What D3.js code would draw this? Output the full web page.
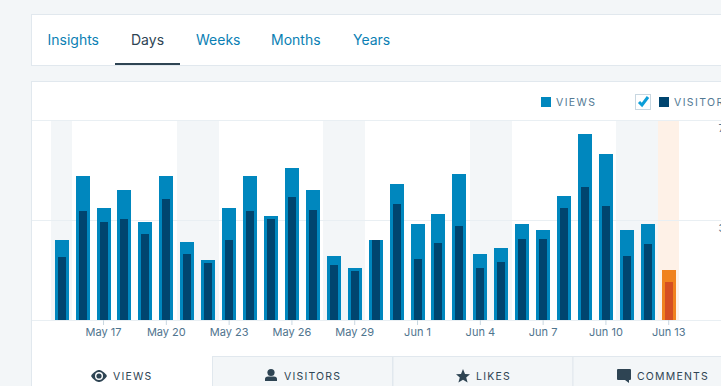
<!DOCTYPE html>
<html>
<head>
<meta charset="utf-8">
<script src="https://cdn.jsdelivr.net/npm/d3@7"></script>
<style>
html, body { margin: 0; padding: 0; background: #f3f6f8; overflow: hidden; }
svg { display: block; font-family: Inter, "Open Sans", sans-serif; }
</style>
</head>
<body>
<script>
const days = [
    'May 15', 'May 16', 'May 17', 'May 18', 'May 19', 'May 20', 'May 21', 'May 22', 'May 23', 'May 24',
    'May 25', 'May 26', 'May 27', 'May 28', 'May 29', 'May 30', 'May 31', 'Jun 1', 'Jun 2', 'Jun 3',
    'Jun 4', 'Jun 5', 'Jun 6', 'Jun 7', 'Jun 8', 'Jun 9', 'Jun 10', 'Jun 11', 'Jun 12', 'Jun 13'
];
const views = [300, 540, 420, 488, 368, 540, 293, 225, 420, 540, 390, 570, 488, 240, 195, 300, 510, 360, 398, 548, 248, 270, 360, 338, 465, 698, 623, 338, 360, 188];
const visitors = [236, 409, 368, 379, 323, 454, 248, 214, 300, 409, 379, 461, 412, 206, 184, 300, 435, 229, 289, 353, 195, 218, 304, 304, 420, 500, 428, 240, 285, 143];
const weekendDays = ['May 15', 'May 21', 'May 22', 'May 28', 'May 29', 'Jun 4', 'Jun 5', 'Jun 11', 'Jun 12'];
const todayDay = 'Jun 13';
const tickDays = ['May 17', 'May 20', 'May 23', 'May 26', 'May 29', 'Jun 1', 'Jun 4', 'Jun 7', 'Jun 10', 'Jun 13'];
const yTicks = [375, 750];
const rangeTabs = ['Insights', 'Days', 'Weeks', 'Months', 'Years'];
const rangeTabX = [47.5, 131, 196, 271, 353];
const statTabs = ['VIEWS', 'VISITORS', 'LIKES', 'COMMENTS'];

const [w, h] = [721, 386];
const border = '#e1e8ee';
const gridColor = '#e9eff3';
const textColor = '#2e4453';
const linkColor = '#0b7fb4';

const svg = d3.select('body')
    .append('svg')
    .attr('width', w)
    .attr('height', h);

// Range tabs card
svg.append('rect')
    .attr('x', 31.5).attr('y', 14.5)
    .attr('width', w).attr('height', 51)
    .attr('fill', '#fff').attr('stroke', border);

svg.selectAll('.range-tab')
    .data(rangeTabs)
    .enter()
    .append('text')
    .attr('class', 'range-tab')
    .attr('x', (d, i) => rangeTabX[i])
    .attr('y', 45)
    .attr('font-size', '14px')
    .attr('fill', d => d === 'Days' ? textColor : linkColor)
    .text(d => d);

svg.append('rect')
    .attr('x', 115).attr('y', 63)
    .attr('width', 65).attr('height', 2)
    .attr('fill', '#2e4453');

// Chart card
svg.append('rect')
    .attr('x', 31.5).attr('y', 81.5)
    .attr('width', w).attr('height', h)
    .attr('fill', '#fff').attr('stroke', border);

// Scales
const x = d3.scaleBand()
    .domain(days)
    .range([51.2, 679.2]);

const y = d3.scaleLinear()
    .domain([0, 750])
    .range([320, 120]);

const barW = 14;
const innerW = 8;

// Day backgrounds
svg.append('g')
    .selectAll('rect')
    .data(days.filter(d => weekendDays.includes(d) || d === todayDay))
    .enter()
    .append('rect')
    .attr('x', d => x(d))
    .attr('y', 120)
    .attr('width', x.bandwidth())
    .attr('height', 200)
    .attr('fill', d => d === todayDay ? '#fef1e7' : '#f3f6f8')
    .attr('shape-rendering', 'crispEdges');

// Grid lines
svg.append('g')
    .selectAll('line')
    .data([0, ...yTicks])
    .enter()
    .append('line')
    .attr('x1', 32).attr('x2', w)
    .attr('y1', d => y(d) + 0.5).attr('y2', d => y(d) + 0.5)
    .attr('stroke', gridColor);

// Bars
const barGroup = svg.append('g').attr('shape-rendering', 'crispEdges');

barGroup.selectAll('.views')
    .data(days)
    .enter()
    .append('rect')
    .attr('class', 'views')
    .attr('x', d => x(d) + (x.bandwidth() - barW) / 2)
    .attr('y', (d, i) => y(views[i]))
    .attr('width', barW)
    .attr('height', (d, i) => y(0) - y(views[i]))
    .attr('fill', d => d === todayDay ? '#f0821e' : '#0087be');

barGroup.selectAll('.visitors')
    .data(days)
    .enter()
    .append('rect')
    .attr('class', 'visitors')
    .attr('x', d => x(d) + (x.bandwidth() - innerW) / 2)
    .attr('y', (d, i) => y(visitors[i]))
    .attr('width', innerW)
    .attr('height', (d, i) => y(0) - y(visitors[i]))
    .attr('fill', d => d === todayDay ? '#d54e21' : '#00456f');

// X axis
const xAxis = d3.axisBottom(x)
    .tickValues(tickDays)
    .tickSize(5)
    .tickPadding(3);

const xAxisG = svg.append('g')
    .attr('transform', 'translate(0, 320)')
    .call(xAxis);
xAxisG.select('.domain').remove();
xAxisG.selectAll('line').attr('stroke', '#c8d7e1');
xAxisG.selectAll('text')
    .attr('font-size', '11px')
    .attr('font-family', 'Inter, sans-serif')
    .attr('fill', '#4f748e');

// Y axis labels run off the window on the right
svg.selectAll('.y-label')
    .data(yTicks)
    .enter()
    .append('text')
    .attr('class', 'y-label')
    .attr('x', 718.5)
    .attr('y', d => y(d) + 12)
    .attr('font-size', '11px')
    .attr('fill', '#4f748e')
    .text(d => d);

// Legend
const legendText = (text, xPos) => svg.append('text')
    .attr('x', xPos).attr('y', 106)
    .attr('font-size', '10.5px')
    .attr('letter-spacing', '1.4px')
    .attr('fill', '#537994')
    .text(text);

svg.append('rect').attr('x', 541).attr('y', 97).attr('width', 10).attr('height', 10).attr('fill', '#0087be');
legendText('VIEWS', 556);
svg.append('rect').attr('x', 635.5).attr('y', 94.5).attr('width', 15).attr('height', 15).attr('fill', '#fff').attr('stroke', '#c8d7e1');
svg.append('path')
    .attr('d', 'M639 102 L642 105 L648 97')
    .attr('fill', 'none').attr('stroke', '#0c9ed8').attr('stroke-width', 3);
svg.append('rect').attr('x', 659).attr('y', 97).attr('width', 10).attr('height', 10).attr('fill', '#00456f');
legendText('VISITORS', 674);

// Stat tabs
const tabEdges = [32, 212, 392.5, 572.5, 753];
svg.append('g')
    .selectAll('rect')
    .data(statTabs.slice(1))
    .enter()
    .append('rect')
    .attr('x', (d, i) => tabEdges[i + 1] + 0.5)
    .attr('y', 356.5)
    .attr('width', 180)
    .attr('height', 40)
    .attr('fill', '#f3f6f8')
    .attr('stroke', border);

const statTabX = [113, 284, 476, 637];
svg.selectAll('.stat-tab')
    .data(statTabs)
    .enter()
    .append('text')
    .attr('class', 'stat-tab')
    .attr('x', (d, i) => statTabX[i])
    .attr('y', 380)
    .attr('font-size', '10.5px')
    .attr('letter-spacing', '1.2px')
    .attr('fill', textColor)
    .text(d => d);

// Tab icons
svg.append('path')
    .attr('d', 'M91 376 C94 371 98 370 99 370 C100 370 104 371 107 376 C104 381 100 382 99 382 C98 382 94 381 91 376 Z')
    .attr('fill', textColor);
svg.append('circle').attr('cx', 99).attr('cy', 376).attr('r', 4).attr('fill', '#fff');
svg.append('circle').attr('cx', 99).attr('cy', 376).attr('r', 2.6).attr('fill', textColor);
svg.append('circle').attr('cx', 271).attr('cy', 372.5).attr('r', 3.6).attr('fill', textColor);
svg.append('path')
    .attr('d', 'M265 381 L265 379 Q265 376.5 268 376.5 L274 376.5 Q277 376.5 277 379 L277 381 Z')
    .attr('fill', textColor);
svg.append('path')
    .attr('d', 'M463 369 L465 374 L470 374.3 L466.2 377.6 L467.6 382.6 L463 379.8 L458.4 382.6 L459.8 377.6 L456 374.3 L461 374 Z')
    .attr('fill', textColor);
svg.append('path')
    .attr('d', 'M618 369 L630 369 Q631 369 631 370 L631 379 Q631 380 630 380 L629 380 L629 383 L625 380 L618 380 Q617 380 617 379 L617 370 Q617 369 618 369 Z')
    .attr('fill', textColor);
</script>
</body>
</html>
